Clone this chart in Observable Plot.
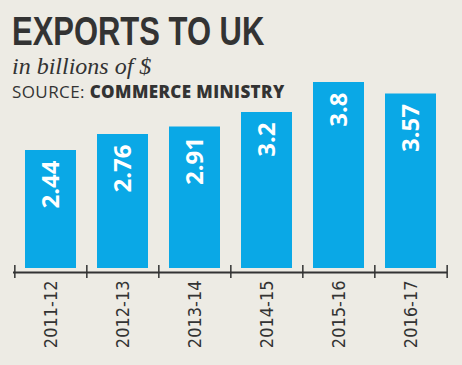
<!DOCTYPE html>
<html>
<head>
<meta charset="utf-8">
<script src="https://cdn.jsdelivr.net/npm/d3@7"></script>
<script src="https://cdn.jsdelivr.net/npm/@observablehq/plot@0.6"></script>
<style>
  html, body { margin: 0; padding: 0; background: #edebe4; }
  #wrap { position: relative; width: 462px; height: 365px; overflow: hidden; background: #edebe4; }
  #chart { position: absolute; left: 0; top: 0; }
  .hdr { position: absolute; left: 12px; white-space: nowrap; color: #333; transform-origin: 0 0; }
  #title { top: 11px; font: bold 41px/41px "Liberation Sans", sans-serif; transform: scaleX(0.755); color: #333; }
  #subtitle { top: 54px; font: italic 24px/24px "Liberation Serif", serif; }
  #source { top: 83px; font: 17px/17px "Open Sans", sans-serif; letter-spacing: 0.4px; }
  #source b { font-weight: 800; }
</style>
</head>
<body>
<div id="wrap">
  <div id="chart"></div>
  <div id="title" class="hdr">EXPORTS TO UK</div>
  <div id="subtitle" class="hdr">in billions of $</div>
  <div id="source" class="hdr">SOURCE: <b>COMMERCE MINISTRY</b></div>
</div>
<script>
const years = ["2011-12", "2012-13", "2013-14", "2014-15", "2015-16", "2016-17"];
const values = [2.44, 2.76, 2.91, 3.2, 3.8, 3.57];
const labels = ["2.44", "2.76", "2.91", "3.2", "3.8", "3.57"];

const data = years.map((y, i) => ({year: y, value: values[i], label: labels[i]}));

const W = 462, H = 365, mL = 13, mR = 15;
const step = (W - mL - mR) / years.length;

const chart = Plot.plot({
  width: W,
  height: H,
  marginLeft: mL,
  marginRight: mR,
  marginTop: 82,
  marginBottom: 93,
  style: {background: "transparent", overflow: "visible"},
  x: {type: "band", domain: years, paddingInner: 0.295, paddingOuter: 0.1475, align: 0.5, axis: null},
  y: {domain: [0, 3.8], axis: null},
  marks: [
    Plot.barY(data, {x: "year", y: "value", fill: "#0aa8e6", insetBottom: 4}),
    Plot.text(data, {
      x: "year", y: "value", text: "label",
      rotate: -90, textAnchor: "end", lineAnchor: "middle", dy: 10,
      fill: "white", fontWeight: "bold", fontSize: 24, fontFamily: "Open Sans"
    }),
    Plot.ruleY([0], {stroke: "#333", strokeWidth: 2}),
    Plot.ruleX(years, {x: d => d, y1: 0, y2: 0, dx: -step / 2, insetTop: -7, insetBottom: -6, stroke: "#333", strokeWidth: 1.5}),
    Plot.ruleX([years[years.length - 1]], {x: d => d, y1: 0, y2: 0, dx: step / 2, insetTop: -7, insetBottom: -6, stroke: "#333", strokeWidth: 1.5}),
    Plot.axisX({
      label: null,
      tickSize: 0, tickPadding: 8, tickRotate: -90,
      fontSize: 18, fontFamily: "DejaVu Sans Condensed", fill: "#333"
    })
  ]
});
document.getElementById("chart").appendChild(chart);
</script>
</body>
</html>
